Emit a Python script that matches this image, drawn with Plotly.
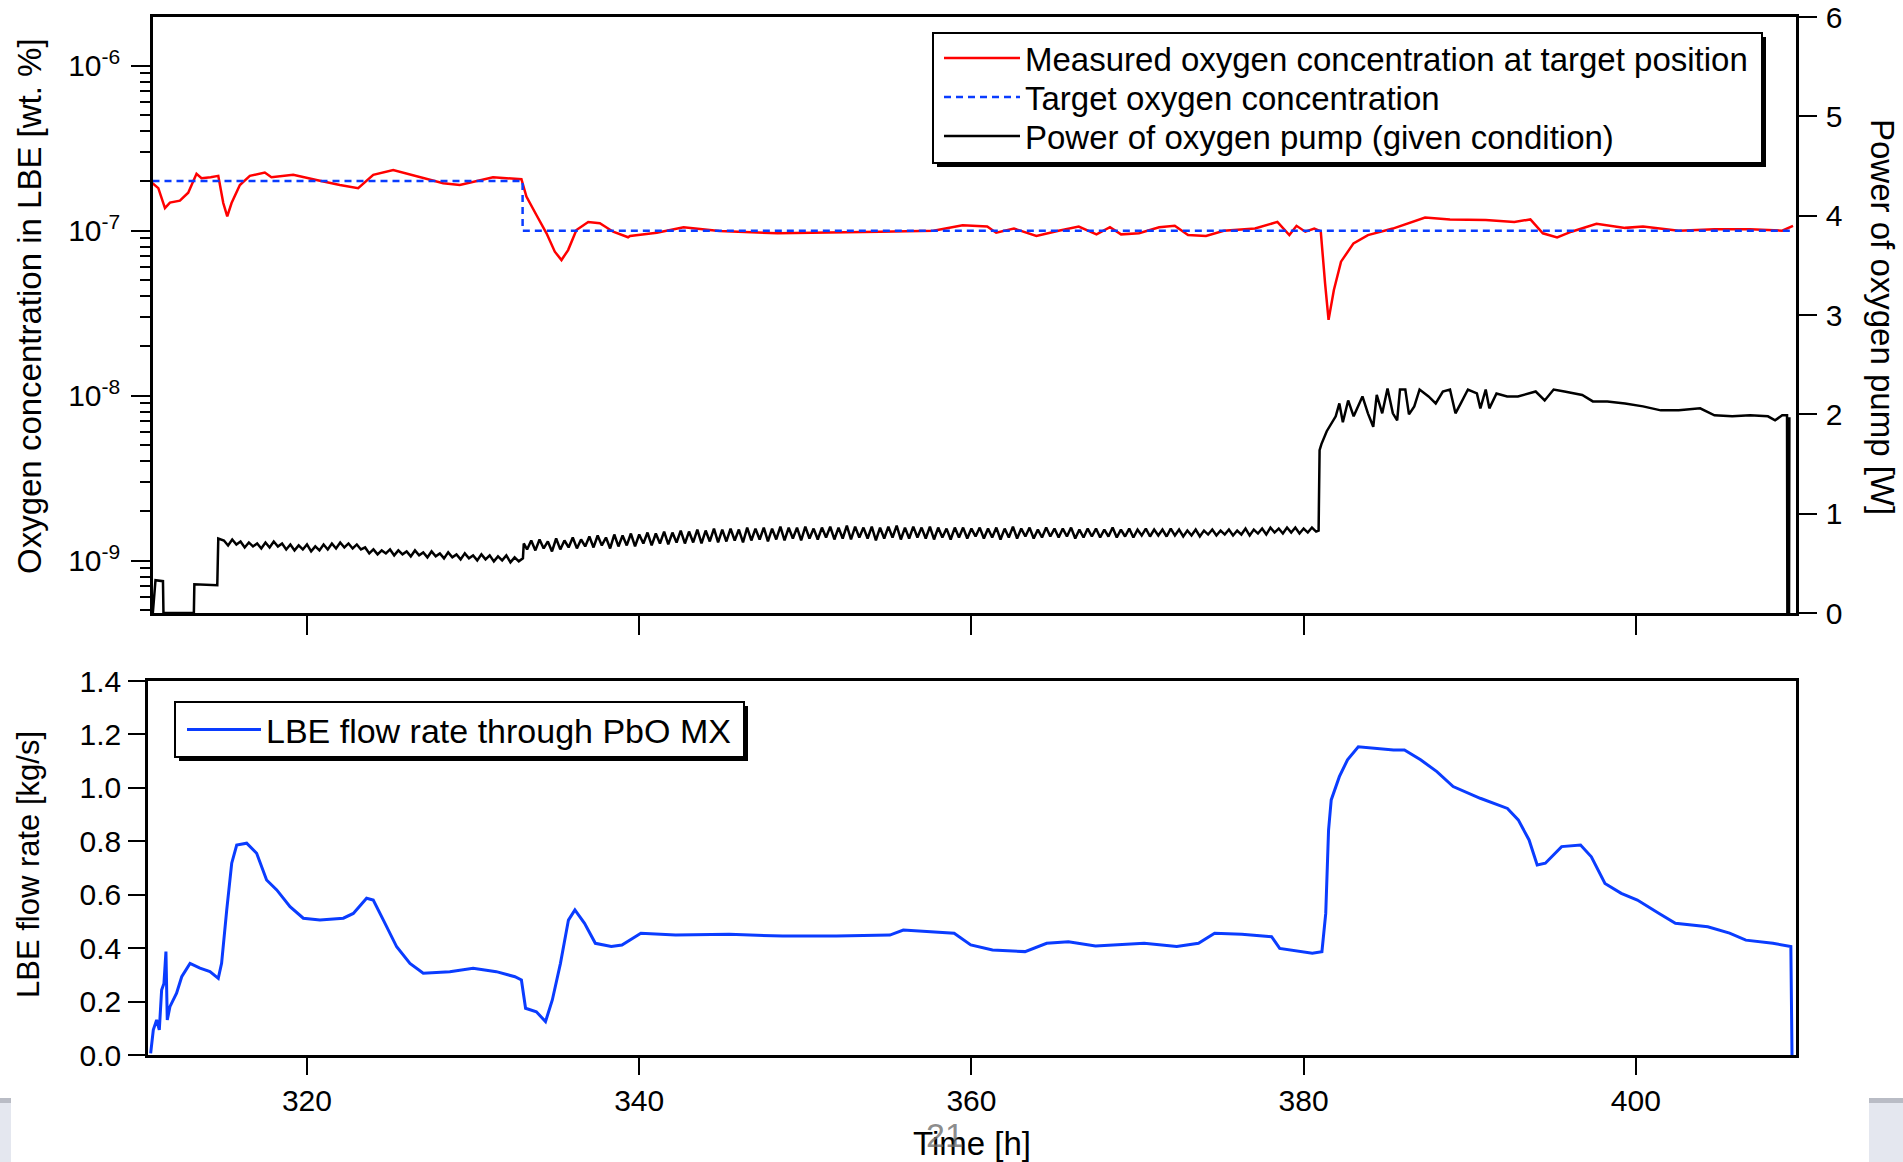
import plotly.graph_objects as go

W, H = 1903, 1162

# ---------------- data ----------------
o2_time = [310.70, 311.05, 311.45, 311.75, 312.35, 312.85, 313.35, 313.65, 314.20, 314.66,
           314.96, 315.20, 315.46, 315.96, 316.56, 317.46, 317.86, 319.17, 320.57, 321.98,
           323.08, 323.99, 325.19, 326.60, 328.20, 329.20, 330.40, 331.20, 332.91, 333.21,
           333.82, 334.42, 334.92, 335.32, 335.72, 336.22, 336.93, 337.63, 338.43, 339.33,
           339.45, 341.06, 342.67, 344.82, 348.32, 351.54, 354.50, 357.72, 359.47, 360.95,
           361.49, 362.56, 363.91, 365.25, 366.46, 367.53, 368.34, 369.01, 370.09, 371.30,
           372.24, 373.04, 374.12, 375.19, 377.07, 378.42, 379.14, 379.57, 380.10, 380.64,
           381.03, 381.29, 381.50, 381.82, 382.25, 383.00, 383.87, 385.37, 386.45, 387.31,
           388.81, 390.96, 392.68, 393.65, 394.40, 395.26, 396.12, 397.63, 399.35, 400.43,
           402.58, 404.73, 406.88, 408.81, 409.46]
o2_meas = [1.94e-7, 1.81e-7, 1.37e-7, 1.48e-7, 1.52e-7, 1.70e-7, 2.21e-7, 2.08e-7, 2.11e-7, 2.15e-7,
           1.47e-7, 1.22e-7, 1.47e-7, 1.89e-7, 2.15e-7, 2.25e-7, 2.11e-7, 2.18e-7, 2.03e-7, 1.89e-7,
           1.81e-7, 2.18e-7, 2.33e-7, 2.13e-7, 1.94e-7, 1.89e-7, 2.03e-7, 2.11e-7, 2.05e-7, 1.61e-7,
           1.24e-7, 9.64e-8, 7.46e-8, 6.64e-8, 7.63e-8, 1.01e-7, 1.13e-7, 1.11e-7, 9.86e-8, 9.12e-8,
           9.29e-8, 9.72e-8, 1.05e-7, 9.96e-8, 9.64e-8, 9.72e-8, 9.86e-8, 1.00e-7, 1.08e-7, 1.06e-7,
           9.72e-8, 1.03e-7, 9.29e-8, 1.00e-7, 1.06e-7, 9.50e-8, 1.05e-7, 9.50e-8, 9.64e-8, 1.05e-7,
           1.07e-7, 9.40e-8, 9.29e-8, 1.00e-7, 1.03e-7, 1.13e-7, 9.40e-8, 1.07e-7, 9.86e-8, 1.03e-7,
           9.90e-8, 4.80e-8, 2.88e-8, 4.37e-8, 6.49e-8, 8.38e-8, 9.40e-8, 1.03e-7, 1.12e-7, 1.20e-7,
           1.17e-7, 1.16e-7, 1.13e-7, 1.17e-7, 9.64e-8, 9.10e-8, 9.86e-8, 1.10e-7, 1.04e-7, 1.06e-7,
           1.00e-7, 1.02e-7, 1.02e-7, 1.00e-7, 1.07e-7]

target_time = [310.70, 332.98, 332.98, 409.30]
target_o2 = [2e-7, 2e-7, 1e-7, 1e-7]

pump_time = [
    310.72, 310.88, 311.33, 311.36, 313.19, 313.22, 314.60, 314.66,
    315.00, 315.25, 315.50, 315.75, 316.00, 316.25, 316.50, 316.75,
    317.00, 317.25, 317.50, 317.75, 318.00, 318.25, 318.50, 318.75,
    319.00, 319.25, 319.50, 319.75, 320.00, 320.25, 320.50, 320.75,
    321.00, 321.25, 321.50, 321.75, 322.00, 322.25, 322.50, 322.75,
    323.00, 323.25, 323.50, 323.75, 324.00, 324.25, 324.50, 324.75,
    325.00, 325.25, 325.50, 325.75, 326.00, 326.25, 326.50, 326.75,
    327.00, 327.25, 327.50, 327.75, 328.00, 328.25, 328.50, 328.75,
    329.00, 329.25, 329.50, 329.75, 330.00, 330.25, 330.50, 330.75,
    331.00, 331.25, 331.50, 331.75, 332.00, 332.25, 332.50, 332.75,
    333.00, 333.05,
    333.25, 333.50, 333.75, 334.00, 334.25, 334.50, 334.75, 335.00,
    335.25, 335.50, 335.75, 336.00, 336.25, 336.50, 336.75, 337.00,
    337.25, 337.50, 337.75, 338.00, 338.25, 338.50, 338.75, 339.00,
    339.25, 339.50, 339.75, 340.00, 340.25, 340.50, 340.75, 341.00,
    341.25, 341.50, 341.75, 342.00, 342.25, 342.50, 342.75, 343.00,
    343.25, 343.50, 343.75, 344.00, 344.25, 344.50, 344.75, 345.00,
    345.25, 345.50, 345.75, 346.00, 346.25, 346.50, 346.75, 347.00,
    347.25, 347.50, 347.75, 348.00, 348.25, 348.50, 348.75, 349.00,
    349.25, 349.50, 349.75, 350.00, 350.25, 350.50, 350.75, 351.00,
    351.25, 351.50, 351.75, 352.00, 352.25, 352.50, 352.75, 353.00,
    353.25, 353.50, 353.75, 354.00, 354.25, 354.50, 354.75, 355.00,
    355.25, 355.50, 355.75, 356.00, 356.25, 356.50, 356.75, 357.00,
    357.25, 357.50, 357.75, 358.00, 358.25, 358.50, 358.75, 359.00,
    359.25, 359.50, 359.75, 360.00, 360.25, 360.50, 360.75, 361.00,
    361.25, 361.50, 361.75, 362.00, 362.25, 362.50, 362.75, 363.00,
    363.25, 363.50, 363.75, 364.00, 364.25, 364.50, 364.75, 365.00,
    365.25, 365.50, 365.75, 366.00, 366.25, 366.50, 366.75, 367.00,
    367.25, 367.50, 367.75, 368.00, 368.25, 368.50, 368.75, 369.00,
    369.25, 369.50, 369.75, 370.00, 370.25, 370.50, 370.75, 371.00,
    371.25, 371.50, 371.75, 372.00, 372.25, 372.50, 372.75, 373.00,
    373.25, 373.50, 373.75, 374.00, 374.25, 374.50, 374.75, 375.00,
    375.25, 375.50, 375.75, 376.00, 376.25, 376.50, 376.75, 377.00,
    377.25, 377.50, 377.75, 378.00, 378.25, 378.50, 378.75, 379.00,
    379.25, 379.50, 379.75, 380.00, 380.25, 380.50, 380.75, 380.90,
    380.96, 381.07, 381.39, 381.93, 382.15, 382.36, 382.68, 383.01, 383.54, 383.87,
    384.19, 384.40, 384.73, 385.05, 385.37, 385.63, 385.80, 386.12, 386.34, 386.66,
    386.98, 387.52, 387.95, 388.38, 388.81, 389.14, 389.46, 389.89, 390.43, 390.64,
    390.96, 391.18, 391.61, 392.25, 392.90, 393.97, 394.51, 395.05, 395.70, 396.77,
    397.41, 398.28, 399.35, 400.43, 401.50, 402.58, 403.87, 404.73, 405.80, 406.88,
    407.95, 408.38, 408.81, 409.10, 409.12, 409.22, 409.24]
pump_power = [
    0.00, 0.33, 0.32, 0.00, 0.00, 0.29, 0.28, 0.75,
    0.73, 0.68, 0.74, 0.69, 0.72, 0.66, 0.71, 0.67,
    0.70, 0.65, 0.71, 0.66, 0.72, 0.67, 0.70, 0.64,
    0.69, 0.63, 0.68, 0.64, 0.69, 0.62, 0.67, 0.63,
    0.69, 0.64, 0.70, 0.65, 0.71, 0.66, 0.70, 0.65,
    0.69, 0.64, 0.66, 0.60, 0.64, 0.59, 0.63, 0.60,
    0.64, 0.58, 0.63, 0.59, 0.62, 0.57, 0.63, 0.58,
    0.61, 0.56, 0.62, 0.57, 0.60, 0.55, 0.61, 0.56,
    0.59, 0.54, 0.60, 0.55, 0.58, 0.53, 0.59, 0.54,
    0.58, 0.52, 0.57, 0.53, 0.58, 0.51, 0.56, 0.52,
    0.55, 0.70,
    0.64, 0.73, 0.63, 0.74, 0.65, 0.72, 0.62, 0.75,
    0.64, 0.73, 0.66, 0.76, 0.65, 0.74, 0.67, 0.77,
    0.66, 0.78, 0.68, 0.76, 0.65, 0.79, 0.67, 0.78,
    0.68, 0.80, 0.67, 0.79, 0.70, 0.81, 0.68, 0.80,
    0.70, 0.82, 0.69, 0.81, 0.71, 0.83, 0.70, 0.82,
    0.71, 0.84, 0.70, 0.83, 0.72, 0.85, 0.71, 0.84,
    0.72, 0.85, 0.73, 0.84, 0.71, 0.86, 0.73, 0.85,
    0.74, 0.86, 0.72, 0.85, 0.74, 0.87, 0.73, 0.86,
    0.75, 0.86, 0.73, 0.87, 0.75, 0.85, 0.74, 0.86,
    0.76, 0.87, 0.74, 0.86, 0.75, 0.88, 0.74, 0.87,
    0.76, 0.86, 0.75, 0.87, 0.73, 0.86, 0.75, 0.87,
    0.76, 0.88, 0.74, 0.86, 0.75, 0.87, 0.76, 0.86,
    0.75, 0.87, 0.74, 0.86, 0.76, 0.85, 0.74, 0.86,
    0.76, 0.86, 0.75, 0.85, 0.77, 0.86, 0.75, 0.85,
    0.76, 0.86, 0.74, 0.85, 0.76, 0.87, 0.75, 0.85,
    0.77, 0.86, 0.75, 0.84, 0.76, 0.86, 0.77, 0.85,
    0.76, 0.85, 0.77, 0.86, 0.75, 0.84, 0.76, 0.85,
    0.77, 0.85, 0.76, 0.84, 0.77, 0.86, 0.76, 0.84,
    0.77, 0.85, 0.76, 0.84, 0.78, 0.85, 0.77, 0.84,
    0.78, 0.84, 0.77, 0.85, 0.78, 0.84, 0.77, 0.83,
    0.78, 0.84, 0.77, 0.83, 0.79, 0.84, 0.78, 0.83,
    0.79, 0.84, 0.78, 0.83, 0.79, 0.85, 0.78, 0.84,
    0.80, 0.85, 0.79, 0.86, 0.81, 0.85, 0.80, 0.86,
    0.81, 0.86, 0.80, 0.85, 0.81, 0.86, 0.82, 0.83,
    1.64, 1.70, 1.83, 1.98, 2.11, 1.92, 2.14, 1.98, 2.18, 2.01,
    1.875, 2.195, 2.01, 2.26, 2.01, 1.94, 2.25, 2.25, 2.00, 2.08,
    2.25, 2.18, 2.11, 2.23, 2.25, 2.01, 2.11, 2.25, 2.21, 2.06,
    2.25, 2.06, 2.21, 2.18, 2.18, 2.23, 2.14, 2.25, 2.23, 2.195,
    2.13, 2.13, 2.11, 2.08, 2.04, 2.04, 2.06, 1.99, 1.98, 1.99,
    1.98, 1.94, 1.99, 1.99, 0.00, 0.00, 1.97]

flow_time = [310.59, 310.75, 310.95, 311.11, 311.25, 311.39, 311.51, 311.59, 311.75, 312.15,
             312.46, 312.96, 313.56, 314.16, 314.66, 314.86, 315.17, 315.47, 315.77, 316.37,
             316.97, 317.57, 318.18, 318.98, 319.78, 320.78, 322.19, 322.79, 323.59, 323.99,
             324.60, 325.40, 326.20, 327.00, 328.60, 330.00, 331.40, 332.52, 332.91, 333.16,
             333.81, 334.36, 334.77, 335.26, 335.74, 336.13, 336.71, 337.36, 338.32, 338.96,
             340.10, 342.19, 345.42, 348.64, 351.87, 355.09, 355.90, 358.96, 359.96, 361.27,
             363.23, 364.53, 365.84, 367.47, 370.40, 372.36, 373.67, 374.64, 376.28, 378.07,
             378.56, 380.52, 381.10, 381.33, 381.50, 381.66, 382.15, 382.64, 383.29, 385.41,
             386.07, 387.04, 388.02, 389.00, 390.63, 392.27, 392.92, 393.57, 394.06, 394.55,
             395.53, 396.67, 397.32, 398.14, 399.12, 400.09, 401.40, 402.38, 404.33, 405.64,
             406.62, 408.25, 409.33, 409.40]
flow_rate = [0.006, 0.094, 0.131, 0.094, 0.243, 0.268, 0.387, 0.131, 0.181, 0.231,
             0.293, 0.343, 0.325, 0.312, 0.287, 0.343, 0.543, 0.718, 0.786, 0.793,
             0.755, 0.655, 0.618, 0.555, 0.512, 0.505, 0.512, 0.530, 0.587, 0.580,
             0.505, 0.405, 0.343, 0.306, 0.312, 0.325, 0.312, 0.293, 0.281, 0.175,
             0.162, 0.125, 0.206, 0.343, 0.505, 0.543, 0.493, 0.418, 0.406, 0.412,
             0.456, 0.449, 0.452, 0.445, 0.445, 0.449, 0.468, 0.456, 0.412, 0.393,
             0.387, 0.418, 0.424, 0.408, 0.418, 0.406, 0.418, 0.456, 0.452, 0.443,
             0.399, 0.381, 0.387, 0.530, 0.842, 0.955, 1.042, 1.105, 1.154, 1.142,
             1.142, 1.105, 1.061, 1.005, 0.961, 0.923, 0.880, 0.805, 0.711, 0.718,
             0.780, 0.786, 0.742, 0.642, 0.605, 0.580, 0.530, 0.493, 0.480, 0.456,
             0.430, 0.418, 0.406, 0.0]

time_ticks = [320, 340, 360, 380, 400]
time_tick_labels = ["320", "340", "360", "380", "400"]
o2_tick_vals = [1e-9, 1e-8, 1e-7, 1e-6]
o2_tick_text = ["10<sup>-9</sup>", "10<sup>-8</sup>", "10<sup>-7</sup>", "10<sup>-6</sup>"]
o2_minor_vals = [k * 10.0 ** e for e in range(-10, -5) for k in range(2, 10)]
power_ticks = [0, 1, 2, 3, 4, 5, 6]
flow_ticks = [0.0, 0.2, 0.4, 0.6, 0.8, 1.0, 1.2, 1.4]

# ---------------- figure ----------------
FONT = "Liberation Sans, Arial, sans-serif"
RED = "#ff0000"
BLUE = "#0a3cff"

fig = go.Figure()
fig.add_trace(go.Scatter(x=o2_time, y=o2_meas, mode="lines", xaxis="x", yaxis="y",
                         line=dict(color=RED, width=2.5),
                         name="Measured oxygen concentration at target position", legend="legend"))
fig.add_trace(go.Scatter(x=target_time, y=target_o2, mode="lines", xaxis="x", yaxis="y",
                         line=dict(color=BLUE, width=2.5, dash="7px,5px"),
                         name="Target oxygen concentration", legend="legend3"))
fig.add_trace(go.Scatter(x=pump_time, y=pump_power, mode="lines", xaxis="x", yaxis="y2",
                         line=dict(color="black", width=2.5),
                         name="Power of oxygen pump (given condition)", legend="legend4"))
fig.add_trace(go.Scatter(x=flow_time, y=flow_rate, mode="lines", xaxis="x2", yaxis="y3",
                         line=dict(color=BLUE, width=3),
                         name="LBE flow rate through PbO MX", legend="legend2"))

axis_common = dict(showline=True, linecolor="black", linewidth=2.5, showgrid=False,
                   zeroline=False, ticks="outside", tickwidth=2, tickcolor="black",
                   automargin=False,
                   tickfont=dict(family=FONT, size=30, color="black"))


def legend_at(x_left, y_center, itemwidth, size=33):
    return dict(x=x_left / W, y=1 - y_center / H, xanchor="left", yanchor="middle",
                bgcolor="rgba(0,0,0,0)", borderwidth=0, itemwidth=itemwidth,
                font=dict(family=FONT, size=size, color="black"))


fig.update_layout(
    template="none",
    width=W, height=H,
    margin=dict(l=0, r=0, t=0, b=0, pad=0, autoexpand=False),
    paper_bgcolor="white", plot_bgcolor="white",
    font=dict(family=FONT, color="black"),
    showlegend=True,
    xaxis=dict(**axis_common, domain=[153 / W, 1796 / W], range=[310.73, 409.64], anchor="y",
               tickmode="array", tickvals=time_ticks, ticktext=time_tick_labels,
               showticklabels=False, ticklen=19, mirror=True),
    yaxis=dict(**axis_common, domain=[1 - 613 / H, 1 - 17 / H], type="log",
               range=[-9.317, -5.705], anchor="x", tickmode="array",
               tickvals=o2_tick_vals, ticktext=o2_tick_text, ticklen=19,
               ticklabelstandoff=5,
               minor=dict(tickmode="array", tickvals=o2_minor_vals, ticks="outside",
                          ticklen=10, tickwidth=2, tickcolor="black", showgrid=False)),
    yaxis2=dict(**axis_common, overlaying="y", side="right", anchor="x", range=[0, 6],
                tickmode="array", tickvals=power_ticks, ticklen=18, ticklabelstandoff=3),
    xaxis2=dict(**axis_common, domain=[148 / W, 1796 / W], range=[310.43, 409.64], anchor="y3",
                tickmode="array", tickvals=time_ticks, ticktext=time_tick_labels,
                ticklen=17, mirror=True, ticklabelstandoff=0),
    yaxis3=dict(**axis_common, domain=[1 - 1055 / H, 1 - 681 / H], range=[0, 1.4], anchor="x2",
                tickmode="array", tickvals=flow_ticks, tickformat=".1f", ticklen=17,
                mirror=True, ticklabelstandoff=1),
    legend=legend_at(939, 58, 76),
    legend3=legend_at(939, 97, 76),
    legend4=legend_at(939, 136, 76),
    legend2=legend_at(182, 730, 74, 34),
)

# legend frames with drop shadows (top box, bottom box)
frames = [(933, 33, 1762, 163), (175, 702, 744, 757)]
for x0, y0, x1, y1 in frames:
    fig.add_shape(type="rect", xref="paper", yref="paper",
                  x0=(x0 + 4) / W, x1=(x1 + 4) / W, y0=1 - (y0 + 4) / H, y1=1 - (y1 + 4) / H,
                  fillcolor="black", line=dict(width=0), layer="above")
    fig.add_shape(type="rect", xref="paper", yref="paper",
                  x0=x0 / W, x1=x1 / W, y0=1 - y0 / H, y1=1 - y1 / H,
                  fillcolor="white", line=dict(color="black", width=2), layer="above")

# grey slide strips at the bottom corners
for x0, x1 in [(0, 11), (1869, 1903)]:
    fig.add_shape(type="rect", xref="paper", yref="paper", x0=x0 / W, x1=x1 / W,
                  y0=0, y1=1 - 1098 / H, fillcolor="#e4e7ef", line=dict(width=0), layer="below")
    fig.add_shape(type="rect", xref="paper", yref="paper", x0=x0 / W, x1=x1 / W,
                  y0=1 - 1103 / H, y1=1 - 1098 / H, fillcolor="#b9bcc5", line=dict(width=0),
                  layer="below")

titles = [
    ("Oxygen concentration in LBE [wt. %]", 29, 306, -90, 33, "black"),
    ("Power of oxygen pump [W]", 1883, 317, 90, 33, "black"),
    ("LBE flow rate [kg/s]", 29, 865, -90, 31, "black"),
    ("Time [h]", 972, 1143.5, 0, 33, "black"),
    ("21", 945, 1135, 0, 34, "rgba(110,110,110,0.8)"),
]
for text, xp, yp, ang, size, col in titles:
    fig.add_annotation(text=text, xref="paper", yref="paper", x=xp / W, y=1 - yp / H,
                       xanchor="center", yanchor="middle", showarrow=False, textangle=ang,
                       font=dict(family=FONT, size=size, color=col))

fig.write_html("out.html", config={"displayModeBar": False},
               post_script="document.body.style.margin='0';document.body.style.overflow='hidden';")
